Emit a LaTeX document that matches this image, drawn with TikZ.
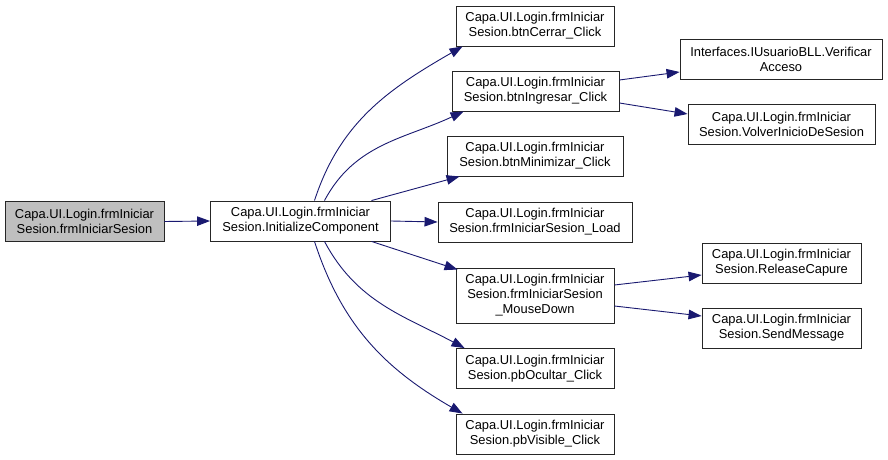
\documentclass[tikz,border=0pt]{standalone}
\usepackage{fontspec}
\setmainfont{Liberation Sans}
\usetikzlibrary{arrows.meta}

\definecolor{edgeblue}{HTML}{191970}
\definecolor{rootgray}{HTML}{BFBFBF}

\begin{document}
\begin{tikzpicture}[x=1pt, y=1pt,
        fn/.style={draw=black!85, line width=0.9pt, fill=white, minimum height=40pt, inner sep=2pt, align=center, font=\fontsize{12.9}{15}\selectfont},
        root/.style={fn, fill=rootgray},
        arrow/.style={-{Triangle[length=13pt, width=9.5pt]}, edgeblue, line width=0.9pt}
    ]
        \useasboundingbox (0,0) rectangle (888,460);

        % Caller and first callee
        \node[root, minimum width=159pt] (frm) at (84.5, 238.5) {Capa.UI.Login.frmIniciar\\Sesion.frmIniciarSesion};
        \node[fn, minimum width=180pt] (init) at (300.5, 239) {Capa.UI.Login.frmIniciar\\Sesion.InitializeComponent};

        % Second column
        \node[fn, minimum width=158pt] (cerrar) at (535, 434) {Capa.UI.Login.frmIniciar\\Sesion.btnCerrar\_Click};
        \node[fn, minimum width=167pt] (ingresar) at (535.5, 369) {Capa.UI.Login.frmIniciar\\Sesion.btnIngresar\_Click};
        \node[fn, minimum width=176pt] (minim) at (535, 304) {Capa.UI.Login.frmIniciar\\Sesion.btnMinimizar\_Click};
        \node[fn, minimum width=194pt] (load) at (535, 238) {Capa.UI.Login.frmIniciar\\Sesion.frmIniciarSesion\_Load};
        \node[fn, minimum width=158pt, minimum height=55pt] (mouse) at (535, 164.5) {Capa.UI.Login.frmIniciar\\Sesion.frmIniciarSesion\\\_MouseDown};
        \node[fn, minimum width=158pt] (ocultar) at (535, 91.5) {Capa.UI.Login.frmIniciar\\Sesion.pbOcultar\_Click};
        \node[fn, minimum width=158pt] (visible) at (535, 26) {Capa.UI.Login.frmIniciar\\Sesion.pbVisible\_Click};

        % Third column
        \node[fn, minimum width=202pt] (verif) at (781, 401) {Interfaces.IUsuarioBLL.Verificar\\Acceso};
        \node[fn, minimum width=187pt] (volver) at (781.5, 336) {Capa.UI.Login.frmIniciar\\Sesion.VolverInicioDeSesion};
        \node[fn, minimum width=159pt] (release) at (781.5, 197) {Capa.UI.Login.frmIniciar\\Sesion.ReleaseCapure};
        \node[fn, minimum width=159pt] (send) at (781.5, 132) {Capa.UI.Login.frmIniciar\\Sesion.SendMessage};

        % Calls
        \draw[arrow] (frm.east) -- (init.west);
        \draw[arrow] ([xshift=14pt]init.north) to[out=72, in=210] ([xshift=7pt]cerrar.south west);
        \draw[arrow] ([xshift=24pt]init.north) to[out=62, in=205] ([xshift=12pt]ingresar.south west);
        \draw[arrow] ([xshift=71pt]init.north) -- ([xshift=13pt]minim.south west);
        \draw[arrow] (init.east) -- (load.west);
        \draw[arrow] ([xshift=71pt]init.south) -- ([xshift=2pt, yshift=-2pt]mouse.north west);
        \draw[arrow] ([xshift=24pt]init.south) to[out=-62, in=152] ([xshift=9pt]ocultar.north west);
        \draw[arrow] ([xshift=14pt]init.south) to[out=-72, in=150] ([xshift=7pt]visible.north west);

        \draw[arrow] ([yshift=11pt]ingresar.east) -- ([yshift=-13pt]verif.west);
        \draw[arrow] ([yshift=-12pt]ingresar.east) -- ([yshift=10pt]volver.west);
        \draw[arrow] ([yshift=10.5pt]mouse.east) -- ([yshift=-12pt]release.west);
        \draw[arrow] ([yshift=-10.5pt]mouse.east) -- ([yshift=12pt]send.west);

\end{tikzpicture}
\end{document}
